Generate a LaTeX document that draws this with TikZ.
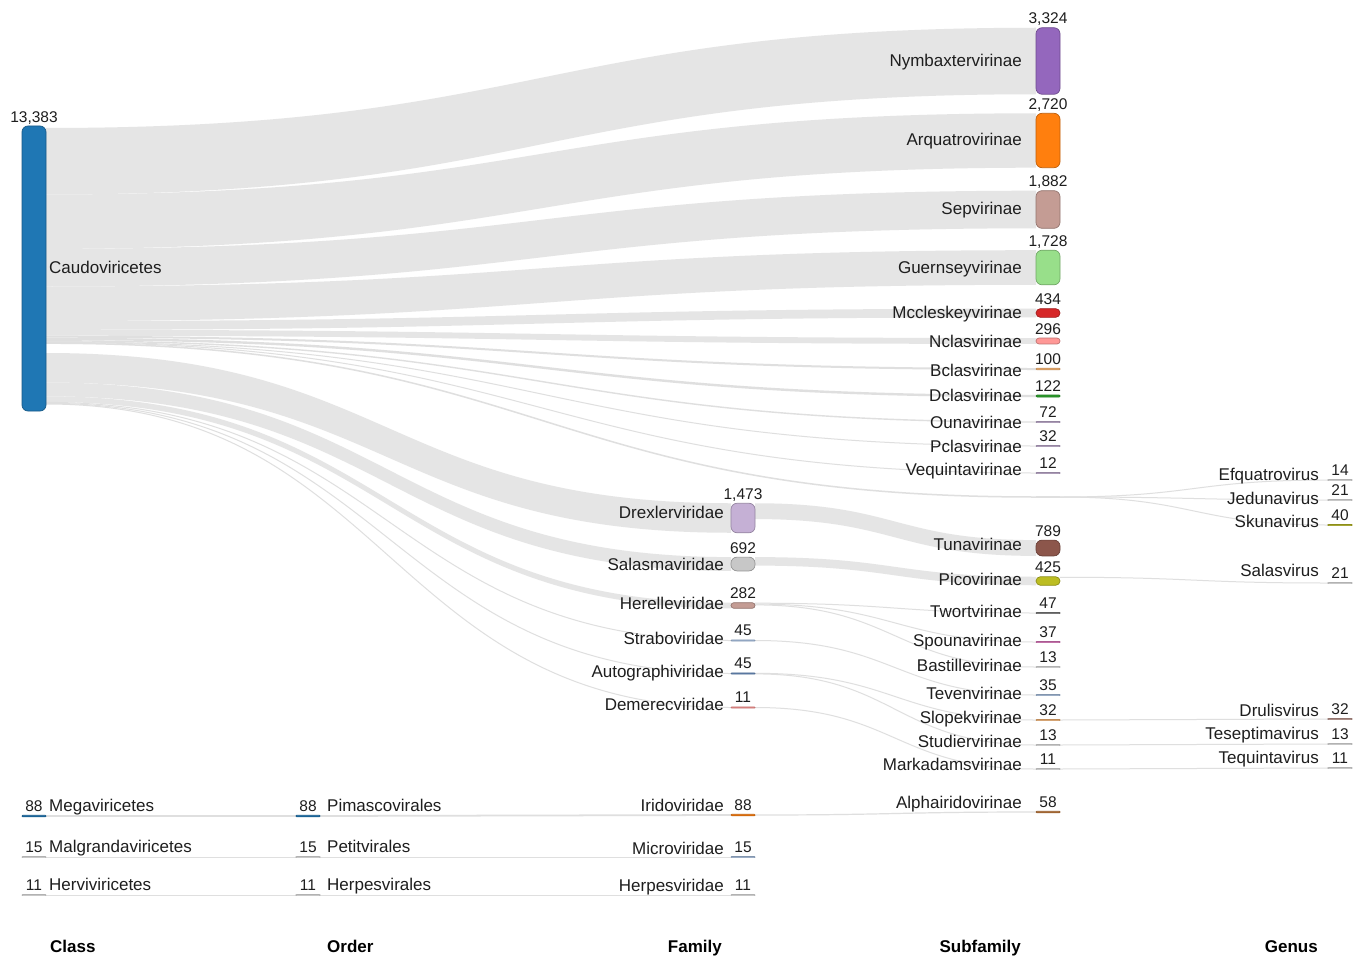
\documentclass[tikz,border=0pt]{standalone}
\usepackage{fontspec}
\setmainfont{Liberation Sans}
\usetikzlibrary{calc}
\pgfdeclarelayer{back}
\pgfdeclarelayer{links}
\pgfsetlayers{back,links,main}
\definecolor{cauC}{HTML}{1F77B4}
\definecolor{nymbC}{HTML}{9467BD}
\definecolor{arquC}{HTML}{FF7F0E}
\definecolor{sepC}{HTML}{C49C94}
\definecolor{guerC}{HTML}{98DF8A}
\definecolor{mcclC}{HTML}{D62728}
\definecolor{nclaC}{HTML}{FF9896}
\definecolor{bclaC}{HTML}{FFBB78}
\definecolor{dclaC}{HTML}{2CA02C}
\definecolor{lavC}{HTML}{C5B0D5}
\definecolor{drexC}{HTML}{C5B0D5}
\definecolor{salmC}{HTML}{C7C7C7}
\definecolor{blgC}{HTML}{AEC7E8}
\definecolor{autoC}{HTML}{6B8FC0}
\definecolor{tunaC}{HTML}{8C564B}
\definecolor{picoC}{HTML}{BCBD22}
\definecolor{twoC}{HTML}{7F7F7F}
\definecolor{spouC}{HTML}{E377C2}
\definecolor{alphC}{HTML}{C07A3C}
\definecolor{faintC}{HTML}{EEEEEE}
\definecolor{textC}{HTML}{1E1E1E}
\tikzset{
  flowfill/.style={fill=gray!20},
  flowline/.style={draw=gray!25, line cap=butt},
  bar/.style={fill=#1, draw=#1!75!black, line width=0.7pt, minimum width=24pt,
              inner sep=0pt, outer sep=0pt},
  lbl/.style={font=\fontsize{17}{20}\selectfont, text=textC, inner sep=0pt},
  num/.style={font=\fontsize{15.5}{18}\selectfont, text=textC, inner sep=0pt, anchor=base},
  head/.style={font=\fontsize{17}{20}\selectfont\bfseries, text=black, inner sep=0pt},
}
% ribbon: source, offset, target, offset, width
\newcommand\ribbon[5]{%
  \fill[flowfill] let \p1=($(#1.north east)+(0,#2)$), \p2=($(#3.north west)+(0,#4)$),
    \n1={0.5*(\x2-\x1)} in
    (\p1) .. controls +(\n1,0) and +(-\n1,0) .. (\p2) -- ++(0,#5)
    .. controls +(-\n1,0) and +(\n1,0) .. ($(\p1)+(0,#5)$) -- cycle;}
% strand: thin link drawn as a line
\newcommand\strand[5]{%
  \draw[flowline, line width=#5pt] let \p1=($(#1.north east)+(0,#2)$), \p2=($(#3.north west)+(0,#4)$),
    \n1={0.5*(\x2-\x1)} in
    (\p1) .. controls +(\n1,0) and +(-\n1,0) .. (\p2);}
\begin{document}
\begin{tikzpicture}[x=1pt, y=-1pt]
  \begin{pgfonlayer}{back}
    \fill[white] (0,0) rectangle (1364,955);
  \end{pgfonlayer}
  \useasboundingbox (0,0) rectangle (1364,955);

  %% Class
  \foreach \nm/\col/\yc/\h/\ly/\txt/\val in {
    cau/cauC/268.5/285/268/Caudoviricetes/{13,383},
    mega/cauC/816/1.5/806/Megaviricetes/88,
    malg/faintC/857/1.2/847/Malgrandaviricetes/15,
    herv/faintC/895/1.2/885/Herviviricetes/11}{
    \pgfmathsetmacro\rc{min(6,\h/2)}
    \node[bar=\col, minimum height=\h pt, rounded corners=\rc pt] (\nm) at (34,\yc) {};
    \node[lbl, anchor=mid west] at ($(\nm.east |- 0,\ly)+(3,3)$) {\txt};
    \node[num] at ($(\nm.north)+(0,-4)$) {\val};
  }

  %% Order
  \foreach \nm/\col/\yc/\h/\ly/\txt/\val in {
    pima/cauC/816/1.5/806/Pimascovirales/88,
    petit/faintC/857/1.2/847/Petitvirales/15,
    herpo/faintC/895/1.2/885/Herpesvirales/11}{
    \node[bar=\col, minimum height=\h pt, rounded corners=0.6pt] (\nm) at (308,\yc) {};
    \node[lbl, anchor=mid west] at ($(\nm.east |- 0,\ly)+(7,3)$) {\txt};
    \node[num] at ($(\nm.north)+(0,-4)$) {\val};
  }

  %% Family
  \foreach \nm/\col/\yc/\h/\ly/\txt/\val in {
    drex/drexC/518/29.5/513/Drexlerviridae/{1,473},
    salm/salmC/564/13.8/565/Salasmaviridae/692,
    here/sepC/605.5/5.6/604/Herelleviridae/282,
    stra/blgC/640.5/1.2/639/Straboviridae/45,
    auto/autoC/673.5/1.2/672/Autographiviridae/45,
    deme/nclaC/707.5/1.2/705/Demerecviridae/11,
    irid/arquC/815/1.5/806/Iridoviridae/88,
    micr/blgC/857/1.2/849/Microviridae/15,
    herf/faintC/895/1.2/886/Herpesviridae/11}{
    \pgfmathsetmacro\rc{min(6,\h/2)}
    \node[bar=\col, minimum height=\h pt, rounded corners=\rc pt] (\nm) at (743,\yc) {};
    \node[lbl, anchor=mid east] at ($(\nm.west |- 0,\ly)+(-7,3)$) {\txt};
    \node[num] at ($(\nm.north)+(0,-4)$) {\val};
  }

  %% Subfamily
  \foreach \nm/\col/\yc/\h/\ly/\txt/\val in {
    nymb/nymbC/61/66.5/61/Nymbaxtervirinae/{3,324},
    arqu/arquC/140.5/54.4/140/Arquatrovirinae/{2,720},
    sepv/sepC/209.5/37.6/209/Sepvirinae/{1,882},
    guer/guerC/267.5/34.6/268/Guernseyvirinae/{1,728},
    mccl/mcclC/313/8.7/313/Mccleskeyvirinae/434,
    ncla/nclaC/341/5.9/342/Nclasvirinae/296,
    bcla/bclaC/369/1.6/371/Bclasvirinae/100,
    dcla/dclaC/396/2/396/Dclasvirinae/122,
    ouna/lavC/422/1.2/423/Ounavirinae/72,
    pcla/lavC/446/1.2/447/Pclasvirinae/32,
    vequ/lavC/473/1.2/470/Vequintavirinae/12,
    tuna/tunaC/548/15.8/545/Tunavirinae/789,
    pico/picoC/581/8.5/580/Picovirinae/425,
    twor/twoC/613/1.2/612/Twortvirinae/47,
    spou/spouC/642/1.2/641/Spounavirinae/37,
    bast/faintC/667/1.2/666/Bastillevirinae/13,
    teve/blgC/695/1.2/694/Tevenvirinae/35,
    slop/bclaC/720/1.2/718/Slopekvirinae/32,
    stud/faintC/745/1.2/742/Studiervirinae/13,
    mark/faintC/769/1.2/765/Markadamsvirinae/11,
    alph/alphC/812/1.5/803/Alphairidovirinae/58}{
    \pgfmathsetmacro\rc{min(6,\h/2)}
    \node[bar=\col, minimum height=\h pt, rounded corners=\rc pt] (\nm) at (1048,\yc) {};
    \node[lbl, anchor=mid east] at ($(\nm.west |- 0,\ly)+(-14,3)$) {\txt};
    \node[num] at ($(\nm.north)+(0,-4)$) {\val};
  }
  \node[minimum width=24pt, minimum height=1.5pt, inner sep=0pt, outer sep=0pt] (unk) at (1048,497) {};

  %% Genus
  \foreach \nm/\col/\yc/\h/\ly/\txt/\val in {
    efqu/faintC/480/1.2/475/Efquatrovirus/14,
    jedu/faintC/500/1.2/499/Jedunavirus/21,
    skun/picoC/525/1.2/522/Skunavirus/40,
    sala/faintC/583/1.2/571/Salasvirus/21,
    drul/sepC/719/1.2/711/Drulisvirus/32,
    tese/faintC/744/1.2/734/Teseptimavirus/13,
    tequ/faintC/768/1.2/758/Tequintavirus/11}{
    \node[bar=\col, minimum height=\h pt, rounded corners=0.6pt] (\nm) at (1340,\yc) {};
    \node[lbl, anchor=mid east] at ($(\nm.west |- 0,\ly)+(-9,3)$) {\txt};
    \node[num] at ($(\nm.north)+(0,-4)$) {\val};
  }

  %% Links, kept under the bars and labels
  \begin{pgfonlayer}{links}
  \foreach \s/\so/\d/\do/\w in {
    cau/2/nymb/0/66.5, cau/68.5/arqu/0/54.4, cau/122.9/sepv/0/37.6,
    cau/160.5/guer/0/34.6, cau/195.1/mccl/0/8.7, cau/203.8/ncla/0/5.9,
    cau/227/drex/0/29.5, cau/256.5/salm/0/13.8, cau/270.3/here/0/5.6,
    drex/0/tuna/0/15.8, salm/0/pico/0/8.5}{
    \ribbon{\s}{\so}{\d}{\do}{\w}
  }
  \foreach \s/\so/\d/\do/\w in {
    cau/210.7/bcla/0.8/2, cau/212.9/dcla/1/2.4, cau/214.8/ouna/0.6/1.4,
    cau/215.8/pcla/0.6/1, cau/216.3/vequ/0.6/1, cau/217.2/unk/0.75/1.5,
    cau/276.4/stra/0.6/1, cau/277.3/auto/0.6/1, cau/278/deme/0.6/1,
    here/0.5/twor/0.6/1, here/1.4/spou/0.6/1, here/2.2/bast/0.6/1,
    stra/0.6/teve/0.6/1, auto/0.4/slop/0.6/1, auto/1/stud/0.6/1,
    deme/0.6/mark/0.6/1, irid/0.75/alph/0.75/1.2, pico/0.5/sala/0.6/1,
    slop/0.6/drul/0.6/1, stud/0.6/tese/0.6/1, mark/0.6/tequ/0.6/1,
    unk/0.75/efqu/0.6/1, unk/0.75/jedu/0.6/1, unk/0.75/skun/0.6/1,
    mega/0.75/pima/0.75/1.76, pima/0.75/irid/0.75/1.76,
    malg/0.6/petit/0.6/1, petit/0.6/micr/0.6/1,
    herv/0.6/herpo/0.6/1, herpo/0.6/herf/0.6/1}{
    \strand{\s}{\so}{\d}{\do}{\w}
  }
  \draw[flowline, line width=1.5pt] (unk.west) -- (unk.east);
  \end{pgfonlayer}

  %% Column titles
  \node[head, anchor=base west] at (50,952) {Class};
  \node[head, anchor=base west] at (327,952) {Order};
  \node[head, anchor=base east] at (722,952) {Family};
  \node[head, anchor=base east] at (1021,952) {Subfamily};
  \node[head, anchor=base east] at (1318,952) {Genus};
\end{tikzpicture}
\end{document}
